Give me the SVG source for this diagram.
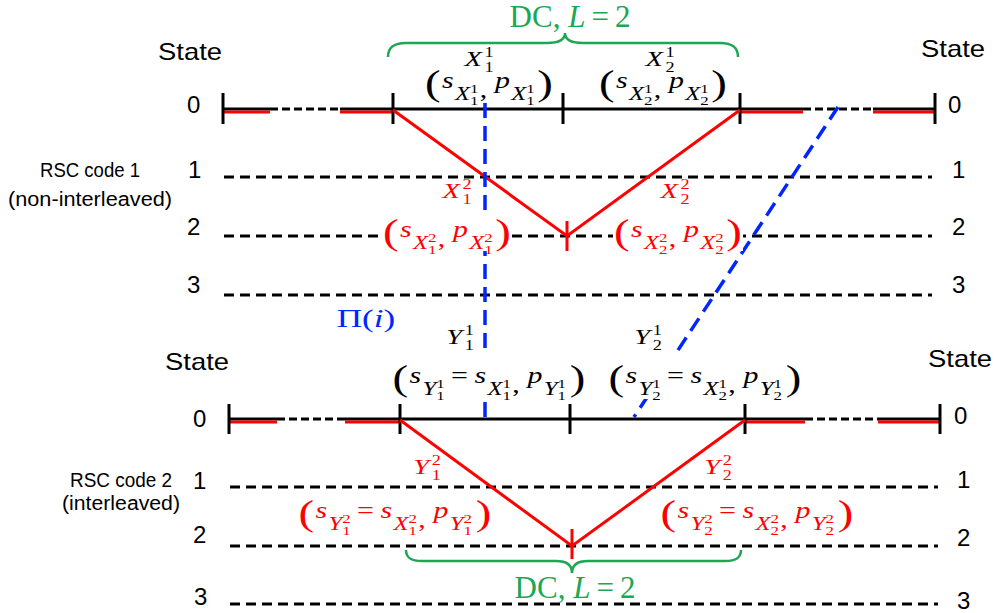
<svg xmlns="http://www.w3.org/2000/svg" width="996" height="613" viewBox="0 0 996 613">
<defs>
<style>
.k{stroke:#000;stroke-width:3;fill:none}
.kd{stroke:#000;stroke-width:3;stroke-dasharray:10 6;fill:none}
.ks{stroke:#000;stroke-width:3;stroke-dasharray:8 4;fill:none}
.r{stroke:#ff0000;stroke-width:3;fill:none}
.b{stroke:#0026ff;stroke-width:3.5;stroke-dasharray:15 8;fill:none}
.g{stroke:#1aa852;stroke-width:2.5;fill:none}
.sans{font-family:"Liberation Sans",Arial,sans-serif;fill:#000}
.m{font-family:"Liberation Serif","Times New Roman",serif;font-size:23px}
.i{font-style:italic}
.s1{font-size:19px}
.s2{font-size:13px}
.s3{font-size:14px}
.p{font-size:36px}
.red{fill:#ff0000}
.blk{fill:#000}
.grn{fill:#1aa852}
.blu{fill:#0026ff}
</style>
</defs>
<rect width="996" height="613" fill="#fff"/>

<g id="trellis1">
<line class="kd" x1="224" y1="177" x2="932" y2="177"/>
<line class="kd" x1="224" y1="236" x2="932" y2="236"/>
<line class="kd" x1="224" y1="295" x2="932" y2="295"/>
<line class="ks" x1="270" y1="109" x2="340" y2="109"/>
<line class="ks" x1="803" y1="109" x2="873" y2="109"/>
<line class="k" x1="223" y1="109" x2="270" y2="109"/>
<line class="r" x1="223" y1="112" x2="270" y2="112"/>
<line class="k" x1="340" y1="109" x2="393" y2="109"/>
<line class="r" x1="340" y1="112" x2="393" y2="112"/>
<line class="k" x1="393" y1="109" x2="740" y2="109"/>
<line class="k" x1="740" y1="109" x2="803" y2="109"/>
<line class="r" x1="740" y1="112" x2="803" y2="112"/>
<line class="k" x1="873" y1="109" x2="935" y2="109"/>
<line class="r" x1="873" y1="112" x2="935" y2="112"/>
<line class="k" x1="223" y1="93" x2="223" y2="124"/>
<line class="k" x1="393" y1="93" x2="393" y2="124"/>
<line class="k" x1="563" y1="93" x2="563" y2="124"/>
<line class="k" x1="740" y1="93" x2="740" y2="124"/>
<line class="k" x1="935" y1="93" x2="935" y2="124"/>
<polyline class="r" points="393,110 567,236 740,110"/>
<line class="r" x1="567" y1="221" x2="567" y2="251"/>
</g>

<g id="trellis2">
<line class="kd" x1="230" y1="487" x2="938" y2="487"/>
<line class="kd" x1="230" y1="546" x2="938" y2="546"/>
<line class="kd" x1="230" y1="604" x2="938" y2="604"/>
<line class="ks" x1="277" y1="419" x2="345" y2="419"/>
<line class="ks" x1="805" y1="419" x2="878" y2="419"/>
<line class="k" x1="229" y1="419" x2="277" y2="419"/>
<line class="r" x1="229" y1="422" x2="277" y2="422"/>
<line class="k" x1="345" y1="419" x2="400" y2="419"/>
<line class="r" x1="345" y1="422" x2="400" y2="422"/>
<line class="k" x1="400" y1="419" x2="745" y2="419"/>
<line class="k" x1="745" y1="419" x2="805" y2="419"/>
<line class="r" x1="745" y1="422" x2="805" y2="422"/>
<line class="k" x1="878" y1="419" x2="940" y2="419"/>
<line class="r" x1="878" y1="422" x2="940" y2="422"/>
<line class="k" x1="229" y1="404" x2="229" y2="434"/>
<line class="k" x1="400" y1="404" x2="400" y2="434"/>
<line class="k" x1="570" y1="404" x2="570" y2="434"/>
<line class="k" x1="745" y1="404" x2="745" y2="434"/>
<line class="k" x1="940" y1="404" x2="940" y2="434"/>
<polyline class="r" points="400,420 572,546 745,420"/>
<line class="r" x1="572" y1="529" x2="572" y2="559"/>
</g>

<g id="connectors">
<line class="b" x1="485" y1="103" x2="485" y2="419"/>
<line class="b" x1="838" y1="107" x2="634" y2="417"/>
</g>

<g id="braces">
<path class="g" d="M388,57 C388,47 394,43 406,43 L547,43 C559,43 565,40 565,33 C565,40 571,43 583,43 L720,43 C732,43 738,47 738,57"/>
<path class="g" d="M406,550 C406,558 411,561 422,561 L556,561 C567,561 572,565 572,573 C572,565 577,561 588,561 L725,561 C736,561 741,558 741,550"/>
<text class="m grn" x="570" y="27" text-anchor="middle" style="font-size:31px">DC, <tspan class="i">L</tspan><tspan dx="6">=</tspan><tspan dx="6">2</tspan></text>
<text class="m grn" x="575" y="598" text-anchor="middle" style="font-size:31px">DC, <tspan class="i">L</tspan><tspan dx="6">=</tspan><tspan dx="6">2</tspan></text>
</g>

<g id="side-labels" class="sans">
<text x="190" y="60" text-anchor="middle" font-size="24" textLength="64" lengthAdjust="spacingAndGlyphs">State</text>
<text x="953" y="57" text-anchor="middle" font-size="24" textLength="64" lengthAdjust="spacingAndGlyphs">State</text>
<text x="197" y="370" text-anchor="middle" font-size="24" textLength="64" lengthAdjust="spacingAndGlyphs">State</text>
<text x="960" y="367" text-anchor="middle" font-size="24" textLength="64" lengthAdjust="spacingAndGlyphs">State</text>
<text x="90" y="177" text-anchor="middle" font-size="20" textLength="100" lengthAdjust="spacingAndGlyphs">RSC code 1</text>
<text x="90" y="206" text-anchor="middle" font-size="20" textLength="164" lengthAdjust="spacingAndGlyphs">(non-interleaved)</text>
<text x="121" y="487" text-anchor="middle" font-size="20" textLength="102" lengthAdjust="spacingAndGlyphs">RSC code 2</text>
<text x="121" y="510" text-anchor="middle" font-size="20" textLength="118" lengthAdjust="spacingAndGlyphs">(interleaved)</text>
<g font-size="24">
<text x="187" y="113">0</text>
<text x="188" y="178">1</text>
<text x="187" y="235">2</text>
<text x="187" y="293">3</text>
<text x="948" y="113">0</text>
<text x="952" y="178">1</text>
<text x="952" y="235">2</text>
<text x="952" y="293">3</text>
<text x="193" y="427">0</text>
<text x="193" y="489">1</text>
<text x="193" y="543">2</text>
<text x="194" y="605">3</text>
<text x="954" y="424">0</text>
<text x="957" y="488">1</text>
<text x="957" y="546">2</text>
<text x="957" y="609">3</text>
</g>
</g>

<g id="pi-label">
<g transform="translate(366,327) scale(1.35,1)"><text class="m blu" text-anchor="middle" style="font-size:26px">Π(<tspan class="i">i</tspan>)</text></g>
</g>

<g id="X11">
<g transform="translate(479,66) scale(1.3,1)"><text class="m blk" text-anchor="middle" style="font-size:22px"><tspan class="i">X</tspan><tspan class="s3" dx="2" dy="-9">1</tspan><tspan class="s3" dx="-7" dy="15">1</tspan></text></g>
<g transform="translate(489,88) scale(1.3,1)"><text class="m blk" text-anchor="middle"><tspan class="p" dy="7">(</tspan><tspan class="i" dx="1" dy="-7">s</tspan><tspan class="i s1" dx="1" dy="12">X</tspan><tspan class="s2" dy="-7">1</tspan><tspan class="s2" dx="-6.5" dy="12">1</tspan><tspan dx="1" dy="-8">,</tspan><tspan class="i" dx="6" dy="-9">p</tspan><tspan class="i s1" dx="1" dy="12">X</tspan><tspan class="s2" dy="-7">1</tspan><tspan class="s2" dx="-6.5" dy="12">1</tspan><tspan class="p" dx="2" dy="-10">)</tspan></text></g>
</g>

<g id="X21">
<g transform="translate(660,66) scale(1.3,1)"><text class="m blk" text-anchor="middle" style="font-size:22px"><tspan class="i">X</tspan><tspan class="s3" dx="2" dy="-9">1</tspan><tspan class="s3" dx="-7" dy="15">2</tspan></text></g>
<g transform="translate(663,88) scale(1.3,1)"><text class="m blk" text-anchor="middle"><tspan class="p" dy="7">(</tspan><tspan class="i" dx="1" dy="-7">s</tspan><tspan class="i s1" dx="1" dy="12">X</tspan><tspan class="s2" dy="-7">1</tspan><tspan class="s2" dx="-6.5" dy="12">2</tspan><tspan dx="1" dy="-8">,</tspan><tspan class="i" dx="6" dy="-9">p</tspan><tspan class="i s1" dx="1" dy="12">X</tspan><tspan class="s2" dy="-7">1</tspan><tspan class="s2" dx="-6.5" dy="12">2</tspan><tspan class="p" dx="2" dy="-10">)</tspan></text></g>
</g>

<g id="X12">
<g transform="translate(457,198) scale(1.3,1)"><text class="m red" text-anchor="middle" style="font-size:22px"><tspan class="i">X</tspan><tspan class="s3" dx="2" dy="-9">2</tspan><tspan class="s3" dx="-7" dy="15">1</tspan></text></g>
<rect x="382" y="213" width="130" height="38" fill="#fff"/>
<g transform="translate(447,237) scale(1.3,1)"><text class="m red" text-anchor="middle"><tspan class="p" dy="7">(</tspan><tspan class="i" dx="1" dy="-7">s</tspan><tspan class="i s1" dx="1" dy="12">X</tspan><tspan class="s2" dy="-7">2</tspan><tspan class="s2" dx="-6.5" dy="12">1</tspan><tspan dx="1" dy="-8">,</tspan><tspan class="i" dx="6" dy="-9">p</tspan><tspan class="i s1" dx="1" dy="12">X</tspan><tspan class="s2" dy="-7">2</tspan><tspan class="s2" dx="-6.5" dy="12">1</tspan><tspan class="p" dx="2" dy="-10">)</tspan></text></g>
</g>

<g id="X22">
<g transform="translate(675,198) scale(1.3,1)"><text class="m red" text-anchor="middle" style="font-size:22px"><tspan class="i">X</tspan><tspan class="s3" dx="2" dy="-9">2</tspan><tspan class="s3" dx="-7" dy="15">2</tspan></text></g>
<rect x="613" y="213" width="130" height="38" fill="#fff"/>
<g transform="translate(678,237) scale(1.3,1)"><text class="m red" text-anchor="middle"><tspan class="p" dy="7">(</tspan><tspan class="i" dx="1" dy="-7">s</tspan><tspan class="i s1" dx="1" dy="12">X</tspan><tspan class="s2" dy="-7">2</tspan><tspan class="s2" dx="-6.5" dy="12">2</tspan><tspan dx="1" dy="-8">,</tspan><tspan class="i" dx="6" dy="-9">p</tspan><tspan class="i s1" dx="1" dy="12">X</tspan><tspan class="s2" dy="-7">2</tspan><tspan class="s2" dx="-6.5" dy="12">2</tspan><tspan class="p" dx="2" dy="-10">)</tspan></text></g>
</g>

<g id="Y11">
<g transform="translate(460,344) scale(1.3,1)"><text class="m blk" text-anchor="middle" style="font-size:22px"><tspan class="i">Y</tspan><tspan class="s3" dx="2" dy="-9">1</tspan><tspan class="s3" dx="-7" dy="15">1</tspan></text></g>
<rect x="387" y="352" width="205" height="44" fill="#fff"/>
<g transform="translate(489,383) scale(1.3,1)"><text class="m blk" text-anchor="middle"><tspan class="p" dy="7">(</tspan><tspan class="i" dx="1" dy="-7">s</tspan><tspan class="i s1" dx="1" dy="12">Y</tspan><tspan class="s2" dy="-7">1</tspan><tspan class="s2" dx="-6.5" dy="12">1</tspan><tspan dx="5" dy="-17">=</tspan><tspan class="i" dx="5">s</tspan><tspan class="i s1" dx="1" dy="12">X</tspan><tspan class="s2" dy="-7">1</tspan><tspan class="s2" dx="-6.5" dy="12">1</tspan><tspan dx="1" dy="-8">,</tspan><tspan class="i" dx="6" dy="-9">p</tspan><tspan class="i s1" dx="1" dy="12">Y</tspan><tspan class="s2" dy="-7">1</tspan><tspan class="s2" dx="-6.5" dy="12">1</tspan><tspan class="p" dx="3" dy="-10">)</tspan></text></g>
</g>

<g id="Y21">
<g transform="translate(648,344) scale(1.3,1)"><text class="m blk" text-anchor="middle" style="font-size:22px"><tspan class="i">Y</tspan><tspan class="s3" dx="2" dy="-9">1</tspan><tspan class="s3" dx="-7" dy="15">2</tspan></text></g>
<rect x="601" y="352" width="207" height="47" fill="#fff"/>
<g transform="translate(705,383) scale(1.3,1)"><text class="m blk" text-anchor="middle"><tspan class="p" dy="7">(</tspan><tspan class="i" dx="1" dy="-7">s</tspan><tspan class="i s1" dx="1" dy="12">Y</tspan><tspan class="s2" dy="-7">1</tspan><tspan class="s2" dx="-6.5" dy="12">2</tspan><tspan dx="5" dy="-17">=</tspan><tspan class="i" dx="5">s</tspan><tspan class="i s1" dx="1" dy="12">X</tspan><tspan class="s2" dy="-7">1</tspan><tspan class="s2" dx="-6.5" dy="12">2</tspan><tspan dx="1" dy="-8">,</tspan><tspan class="i" dx="6" dy="-9">p</tspan><tspan class="i s1" dx="1" dy="12">Y</tspan><tspan class="s2" dy="-7">1</tspan><tspan class="s2" dx="-6.5" dy="12">2</tspan><tspan class="p" dx="3" dy="-10">)</tspan></text></g>
</g>

<g id="Y12">
<g transform="translate(427,474) scale(1.3,1)"><text class="m red" text-anchor="middle" style="font-size:22px"><tspan class="i">Y</tspan><tspan class="s3" dx="2" dy="-9">2</tspan><tspan class="s3" dx="-7" dy="15">1</tspan></text></g>
<g transform="translate(395,518) scale(1.3,1)"><text class="m red" text-anchor="middle"><tspan class="p" dy="7">(</tspan><tspan class="i" dx="1" dy="-7">s</tspan><tspan class="i s1" dx="1" dy="12">Y</tspan><tspan class="s2" dy="-7">2</tspan><tspan class="s2" dx="-6.5" dy="12">1</tspan><tspan dx="5" dy="-17">=</tspan><tspan class="i" dx="5">s</tspan><tspan class="i s1" dx="1" dy="12">X</tspan><tspan class="s2" dy="-7">2</tspan><tspan class="s2" dx="-6.5" dy="12">1</tspan><tspan dx="1" dy="-8">,</tspan><tspan class="i" dx="6" dy="-9">p</tspan><tspan class="i s1" dx="1" dy="12">Y</tspan><tspan class="s2" dy="-7">2</tspan><tspan class="s2" dx="-6.5" dy="12">1</tspan><tspan class="p" dx="3" dy="-10">)</tspan></text></g>
</g>

<g id="Y22">
<g transform="translate(718,474) scale(1.3,1)"><text class="m red" text-anchor="middle" style="font-size:22px"><tspan class="i">Y</tspan><tspan class="s3" dx="2" dy="-9">2</tspan><tspan class="s3" dx="-7" dy="15">2</tspan></text></g>
<g transform="translate(757,518) scale(1.3,1)"><text class="m red" text-anchor="middle"><tspan class="p" dy="7">(</tspan><tspan class="i" dx="1" dy="-7">s</tspan><tspan class="i s1" dx="1" dy="12">Y</tspan><tspan class="s2" dy="-7">2</tspan><tspan class="s2" dx="-6.5" dy="12">2</tspan><tspan dx="5" dy="-17">=</tspan><tspan class="i" dx="5">s</tspan><tspan class="i s1" dx="1" dy="12">X</tspan><tspan class="s2" dy="-7">2</tspan><tspan class="s2" dx="-6.5" dy="12">2</tspan><tspan dx="1" dy="-8">,</tspan><tspan class="i" dx="6" dy="-9">p</tspan><tspan class="i s1" dx="1" dy="12">Y</tspan><tspan class="s2" dy="-7">2</tspan><tspan class="s2" dx="-6.5" dy="12">2</tspan><tspan class="p" dx="3" dy="-10">)</tspan></text></g>
</g>
</svg>
